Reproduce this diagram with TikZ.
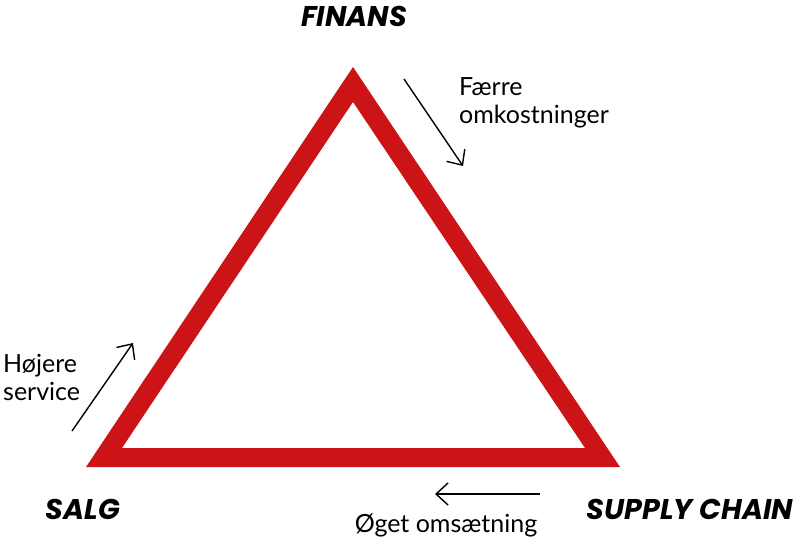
\documentclass[tikz,border=0pt]{standalone}
\usepackage{fontspec}
\setmainfont{Lato}
\newfontfamily\headfont{Poppins}
\usetikzlibrary{arrows.meta}
\definecolor{trired}{RGB}{204,20,23}
\tikzset{
  head/.style={font=\headfont\bfseries\itshape\fontsize{28.5}{30}\selectfont, inner sep=0pt, anchor=base},
  lab/.style={font=\fontsize{25}{28}\selectfont, inner sep=0pt, align=left},
  arr/.style={line width=1.4pt, -{Straight Barb[length=12pt,width=22pt,line width=1.4pt]}}
}
\begin{document}
\begin{tikzpicture}[x=1pt,y=-1pt]
\useasboundingbox (0,0) rectangle (800,544);
% triangle
\coordinate (A) at (353,67);
\coordinate (B) at (86,467);
\coordinate (C) at (620,467);
\coordinate (Ai) at (353,102);
\coordinate (Bi) at (122,448);
\coordinate (Ci) at (585,448);
\fill[trired, even odd rule] (A) -- (B) -- (C) -- cycle (Ai) -- (Bi) -- (Ci) -- cycle;
% headings
\node[head] (fin) at (354,26) {FINANS};
\node[head] (salg) at (83,519) {SALG};
\node[head] (sc) at (690,519) {SUPPLY CHAIN};
% labels
\node[lab, anchor=base west] (faerre) at (459,123) {Færre\\omkostninger};
\node[lab, anchor=base west] (hoejere) at (3,400) {Højere\\service};
\node[lab, anchor=base] (oeget) at (446,532) {Øget omsætning};
% arrows
\coordinate (a1s) at (404,79);
\coordinate (a1e) at (463,166);
\coordinate (a2s) at (72,431);
\coordinate (a2e) at (133,343);
\coordinate (a3s) at (540,494);
\coordinate (a3e) at (435,494);
\draw[arr] (a1s) -- (a1e);
\draw[arr] (a2s) -- (a2e);
\draw[arr] (a3s) -- (a3e);
\end{tikzpicture}
\end{document}
